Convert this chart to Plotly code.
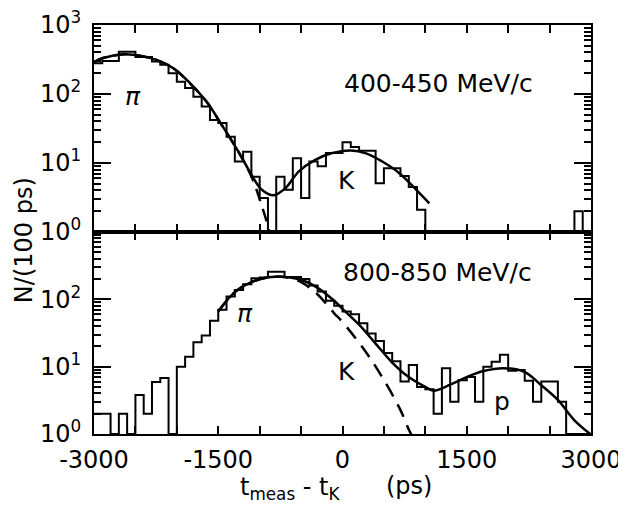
import plotly.graph_objects as go
from plotly.subplots import make_subplots

# ---------------- data ----------------
BIN_WIDTH = 100
bin_starts = list(range(-3000, 3000, BIN_WIDTH))   # 60 bins of 100 ps

# 400-450 MeV/c histogram (counts per 100 ps)
top_counts = [280, 300, 300, 410, 410, 345, 345, 295, 265, 200,
              150, 122, 91, 66, 42, 38, 24, 10.5, 14.5, 6.3,
              3.1, 0, 6.3, 4.1, 11.7, 3.1, 10.5, 9, 14, 14,
              20, 17, 15, 15, 5.1, 8.4, 8.4, 6.5, 4.5, 2.1,
              0, 0, 0, 0, 0, 0, 0, 0, 0, 0,
              0, 0, 0, 0, 0, 0, 0, 0, 2, 0]

# 800-850 MeV/c histogram
bottom_counts = [2, 2, 0, 2, 0, 3.8, 2, 5.9, 6.8, 0,
                 10, 14, 23, 29, 48, 70, 110, 137, 167, 205,
                 210, 257, 257, 215, 215, 200, 160, 130, 95, 80,
                 66, 60, 44, 31, 24, 16, 12, 6, 10.6, 5,
                 4.6, 2, 9.5, 3, 6.3, 7, 3, 10, 11.8, 15,
                 8.7, 8.9, 6.2, 3, 6, 6, 3, 0, 0, 0]

# fitted curves
top_fit_t = [-3000, -2900, -2635, -2400, -2240, -2040, -1840, -1640, -1445, -1245,
             -1085, -970, -830, -690, -530, -335, -135, 100, 285, 485, 687, 888, 1048]
top_fit_n = [290, 330, 376, 350, 310, 235, 143, 77, 33.6, 13.8,
             6.3, 4.06, 3.4, 4.3, 7.5, 11, 13.8, 15.2, 13.8, 10.4, 7.1, 4.1, 2.6]

top_pi_t = [-3000, -2900, -2635, -2400, -2240, -2040, -1840, -1640, -1445, -1245,
            -1085, -970, -910, -880, -860]
top_pi_n = [290, 330, 376, 350, 310, 235, 143, 77, 33.6, 13.8,
            5.8, 2.3, 1.35, 1.0, 0.85]

bot_fit_t = [-1500, -1300, -1100, -900, -800, -700, -500, -300, -100, 0,
             200, 400, 600, 800, 1000, 1100, 1300, 1500, 1700, 1950,
             2200, 2400, 2600, 2800, 3000]
bot_fit_n = [66, 128, 180, 212, 217, 215, 195, 148, 95, 72,
             42, 22, 11.5, 7, 5, 4.4, 5.4, 7, 8.6, 9.5,
             8.3, 5.3, 3.2, 1.6, 0.98]

bot_pi_t = [-1500, -1300, -1100, -900, -800, -700, -500, -300, -100, 0,
            265, 485, 690, 810, 850]
bot_pi_n = [66, 128, 180, 212, 217, 214, 180, 118, 62, 46,
            17.7, 6.8, 2.4, 1.1, 0.9]

x_label_vals = [-3000, -1500, 0, 1500, 3000]
x_label_text = ["-3000", "-1500", "0", "1500", "3000"]
x_minor_vals = [v for v in range(-3000, 3001, 500) if v % 1500 != 0]
top_y_vals = [1, 10, 100, 1000]
top_y_labels = ["10<sup>0</sup>", "10<sup>1</sup>", "10<sup>2</sup>", "10<sup>3</sup>"]
bot_y_vals = [1, 10, 100]
bot_y_labels = ["10<sup>0</sup>", "10<sup>1</sup>", "10<sup>2</sup>"]
y_minor_vals = [m * d for d in (1, 10, 100) for m in range(2, 10)]

AXIS_MIN = 1.0  # empty bins are drawn on the 10^0 baseline

# ---------------- figure ----------------
fig = make_subplots(rows=2, cols=1, shared_xaxes=True, vertical_spacing=0)

def step_xy(counts):
    xs = bin_starts + [bin_starts[-1] + BIN_WIDTH]
    ys = [max(c, AXIS_MIN) for c in counts]
    ys = ys + [ys[-1]]
    return xs, ys

for row, counts in ((1, top_counts), (2, bottom_counts)):
    xs, ys = step_xy(counts)
    fig.add_trace(go.Scatter(x=xs, y=ys, mode="lines", line_shape="hv",
                             line=dict(color="black", width=2), hoverinfo="skip"),
                  row=row, col=1)

curve_sets = [
    (1, top_fit_t, top_fit_n, "solid"),
    (1, top_pi_t, top_pi_n, "13px,8px"),
    (2, bot_fit_t, bot_fit_n, "solid"),
    (2, bot_pi_t, bot_pi_n, "14px,9px"),
]
for row, t, n, dash in curve_sets:
    fig.add_trace(go.Scatter(x=t, y=n, mode="lines", line_shape="spline",
                             line=dict(color="black", width=2.5, dash=dash),
                             hoverinfo="skip"),
                  row=row, col=1)

axis_line = dict(showline=True, linecolor="black", linewidth=2, mirror="ticks",
                 showgrid=False, zeroline=False, ticks="inside", tickcolor="black",
                 automargin=False, ticklabeloverflow="allow")

fig.update_xaxes(range=[-3000, 3000], tickvals=x_label_vals, ticktext=x_label_text,
                 ticklen=8, tickwidth=1.5,
                 minor=dict(ticks="inside", tickvals=x_minor_vals, ticklen=8,
                            tickwidth=1.5, tickcolor="black"),
                 **axis_line)
fig.update_xaxes(showticklabels=False, row=1, col=1)
fig.update_xaxes(tickfont=dict(size=24), ticklabelstandoff=3, row=2, col=1)

y_common = dict(type="log", range=[0, 3], ticklen=17, tickwidth=1.5,
                minor=dict(ticks="inside", tickvals=y_minor_vals, ticklen=7,
                           tickwidth=1.5, tickcolor="black"),
                tickfont=dict(size=24), ticklabelstandoff=6, **axis_line)
fig.update_yaxes(domain=[0.494, 1.0], tickvals=top_y_vals, ticktext=top_y_labels,
                 row=1, col=1, **y_common)
fig.update_yaxes(domain=[0.0, 0.494], tickvals=bot_y_vals, ticktext=bot_y_labels,
                 row=2, col=1, **y_common)

label_font = dict(family="DejaVu Sans", size=25, color="black")
annotations = [
    dict(text="400-450 MeV/c", xref="paper", yref="paper", x=0.694, y=0.858),
    dict(text="800-850 MeV/c", xref="paper", yref="paper", x=0.692, y=0.394),
    dict(text="<i>π</i>", xref="x", yref="y", x=-2530, y=1.96),
    dict(text="K", xref="x", yref="y", x=50, y=0.75),
    dict(text="<i>π</i>", xref="x2", yref="y2", x=-1180, y=1.79),
    dict(text="K", xref="x2", yref="y2", x=50, y=0.93),
    dict(text="p", xref="x2", yref="y2", x=1930, y=0.49),
]
for a in annotations:
    fig.add_annotation(showarrow=False, font=label_font, xanchor="center",
                       yanchor="middle", **a)

# the page body adds an 8 px offset; plot area targets x 94-591, y 25-434 in the window
fig.add_annotation(text="N/(100 ps)", xref="paper", yref="paper", x=(24 - 94) / 497,
                   y=0.474, textangle=-90, showarrow=False, font=dict(size=24),
                   xanchor="center", yanchor="middle")
fig.add_annotation(text="t<sub>meas</sub> - t<sub>K</sub>", xref="paper", yref="paper",
                   x=(290 - 94) / 497, y=(434 - 489) / 409, showarrow=False,
                   font=dict(size=24), xanchor="center", yanchor="middle")
fig.add_annotation(text="(ps)", xref="paper", yref="paper",
                   x=(409 - 94) / 497, y=(434 - 486) / 409, showarrow=False,
                   font=dict(size=24), xanchor="center", yanchor="middle")

fig.update_layout(width=618, height=498, margin=dict(l=86, r=35, t=17, b=72),
                  paper_bgcolor="white", plot_bgcolor="white", showlegend=False,
                  font=dict(family="DejaVu Sans", size=24, color="black"))

fig.write_html("out.html")
